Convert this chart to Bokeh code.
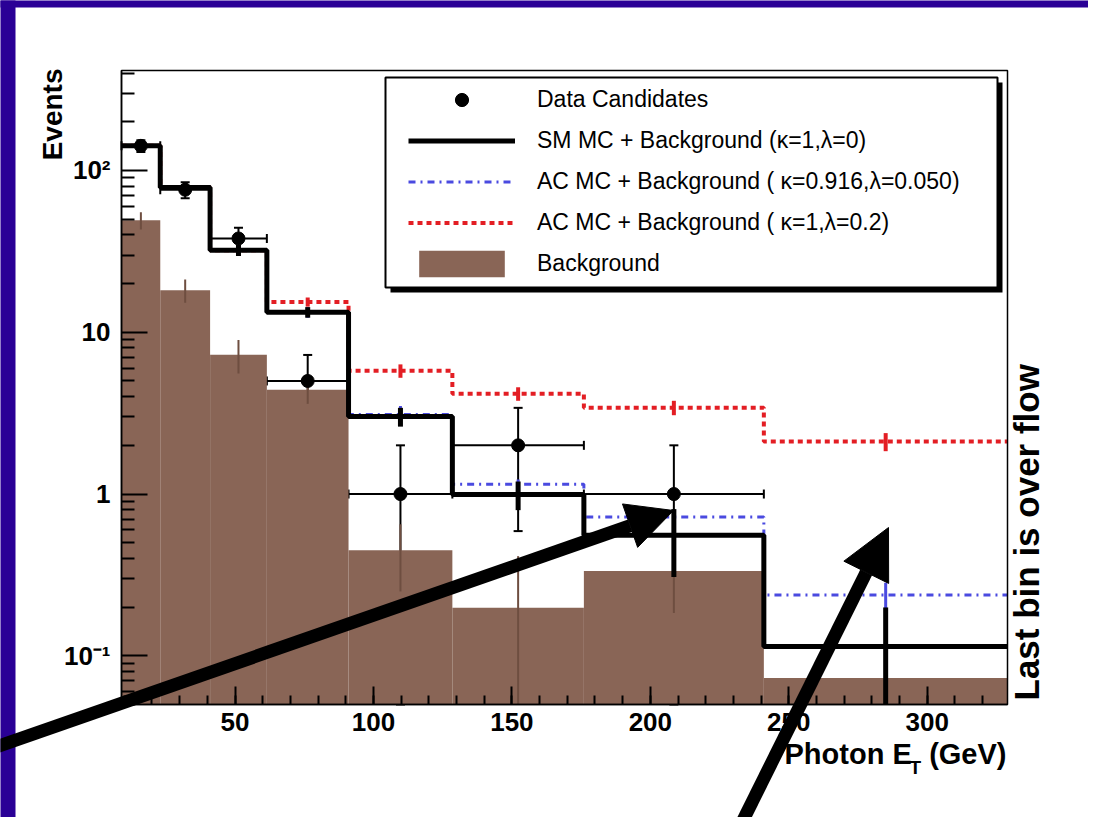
import math
from bokeh.plotting import figure
from bokeh.models import (ColumnDataSource, Whisker, TeeHead, Legend, LegendItem, Label,
                          Arrow, NormalHead, BoxAnnotation, FixedTicker, CustomJSTickFormatter,
                          Range1d)
from bokeh.embed import file_html
from bokeh.resources import INLINE

# ---------------- data ----------------
bin_edges = [9, 23, 41, 61.5, 91, 128.5, 176, 241, 329]          # Photon E_T bins (GeV), last = overflow
data_counts = [142, 76, 38, 5, 1, 2, 1, 0]
data_err = [11.9, 8.7, 6.2, 2.24, 1.0, 1.41, 1.0, 0.0]
sm_mc = [142, 78.5, 32.1, 13.3, 3.01, 0.995, 0.557, 0.114]
sm_err = [10, 5, 2.5, 1.0, 0.4, 0.2, 0.25, 0.085]
ac_blue = [142, 78.5, 32.1, 13.3, 3.1, 1.15, 0.72, 0.238]
ac_blue_err = [10, 5, 2.5, 1.0, 0.4, 0.08, 0.06, 0.045]
ac_red = [142, 78.5, 32.1, 15.4, 5.78, 4.17, 3.42, 2.11]
ac_red_err = [10, 5, 2.5, 1.0, 0.55, 0.4, 0.35, 0.27]
background = [49.2, 18.2, 7.25, 4.41, 0.45, 0.198, 0.334, 0.073]
background_err = [6, 3, 1.7, 0.8, 0.2, 0.215, 0.15, 0.125]

x_ticks = [50, 100, 150, 200, 250, 300]
y_ticks = [0.1, 1, 10, 100]

legend_labels = ["Data Candidates",
                 "SM MC + Background (\u03ba=1,\u03bb=0)",
                 "AC MC + Background ( \u03ba=0.916,\u03bb=0.050)",
                 "AC MC + Background ( \u03ba=1,\u03bb=0.2)",
                 "Background"]

# ---------------- layout geometry (canvas pixels) ----------------
W, H = 1088, 817
FL, FR, FT, FB = 121, 1007, 70, 704       # the drawn plot box
X0, X1 = 9, 329                           # axis extents
Y0, Y1 = 0.05, 415

def px_x(px):
    return X0 + (px - FL) * (X1 - X0) / (FR - FL)

def px_y(py):
    l0, l1 = math.log10(Y0), math.log10(Y1)
    return 10 ** (l0 + (FB - py) * (l1 - l0) / (FB - FT))

PURPLE = "#2a0096"
BROWN = "#896556"
RED = "#e31e24"
BLUE = "#4a4ae0"
FONT = "Liberation Sans"

# the Bokeh frame covers the whole canvas; the axes are pinned to the plot box
p = figure(width=W, height=H, y_axis_type="log",
           x_range=Range1d(px_x(0), px_x(W)), y_range=Range1d(px_y(H), px_y(0)),
           output_backend="svg", toolbar_location=None,
           min_border_left=0, min_border_right=0, min_border_top=0, min_border_bottom=0)
p.title.visible = False
p.background_fill_color = "white"
p.border_fill_color = "white"
p.outline_line_alpha = 0
p.xgrid.visible = False
p.ygrid.visible = False

p.xaxis.fixed_location = Y0
p.yaxis.fixed_location = X0
p.xaxis.bounds = (X0, X1)
p.yaxis.bounds = (Y0, Y1)
for ax in (p.xaxis, p.yaxis):
    ax.axis_line_width = 1.5
    ax.major_tick_out = 0
    ax.minor_tick_out = 0
    ax.major_tick_line_width = 2
    ax.minor_tick_line_width = 2
    ax.major_label_text_font = FONT
    ax.major_label_text_font_style = "bold"
    ax.major_label_text_font_size = "26px"
    ax.major_label_text_color = "black"
p.xaxis.major_tick_in = 18
p.xaxis.minor_tick_in = 9
p.yaxis.major_tick_in = 26
p.yaxis.minor_tick_in = 13
p.xaxis.major_label_standoff = 8
p.yaxis.major_label_standoff = 11
p.xaxis.ticker = FixedTicker(ticks=x_ticks, minor_ticks=list(range(10, 330, 10)))
y_minor = [m * 10 ** e for e in range(-2, 3) for m in range(2, 10)]
p.yaxis.ticker = FixedTicker(ticks=y_ticks, minor_ticks=[t for t in y_minor if Y0 <= t <= Y1])
p.yaxis.formatter = CustomJSTickFormatter(code="""
const m = {"-1": "10\u207b\u00b9", "0": "1", "1": "10", "2": "10\u00b2"};
const e = Math.round(Math.log10(tick));
return m[String(e)];
""")

nb = len(bin_edges) - 1
lefts = bin_edges[:-1]
rights = bin_edges[1:]
centers = [(a + b) / 2 for a, b in zip(lefts, rights)]
FLOOR = Y0

# background histogram
bg_r = p.quad(left=lefts, right=rights, top=background, bottom=[FLOOR] * nb,
              fill_color=BROWN, line_color=BROWN, line_width=0)
p.segment(x0=centers, x1=centers,
          y0=[max(v - e, FLOOR) for v, e in zip(background, background_err)],
          y1=[v + e for v, e in zip(background, background_err)],
          line_color="#6e4e40", line_width=2)

def step_hist(vals, errs, color, width, dash, err_width):
    r = p.step(x=bin_edges, y=list(vals) + [vals[-1]], mode="after",
               line_color=color, line_width=width, line_dash=dash)
    p.segment(x0=centers, x1=centers,
              y0=[max(v - e, FLOOR) for v, e in zip(vals, errs)],
              y1=[v + e for v, e in zip(vals, errs)],
              line_color=color, line_width=err_width)
    return r

blue_r = step_hist(ac_blue, ac_blue_err, BLUE, 3, "7 5 2 5", 3)
red_r = step_hist(ac_red, ac_red_err, RED, 4, "5 4", 4)
sm_r = step_hist(sm_mc, sm_err, "black", 5, "solid", 5)

# data candidates
idx = [i for i, v in enumerate(data_counts) if v > 0]
dsrc = ColumnDataSource(dict(
    x=[centers[i] for i in idx],
    y=[data_counts[i] for i in idx],
    lo=[max(data_counts[i] - data_err[i], FLOOR) for i in idx],
    hi=[data_counts[i] + data_err[i] for i in idx],
    xl=[lefts[i] for i in idx],
    xr=[rights[i] for i in idx],
))
p.add_layout(Whisker(source=dsrc, base="x", lower="lo", upper="hi", dimension="height",
                     line_color="black", line_width=2,
                     lower_head=TeeHead(size=9, line_color="black", line_width=2),
                     upper_head=TeeHead(size=9, line_color="black", line_width=2)))
p.add_layout(Whisker(source=dsrc, base="y", lower="xl", upper="xr", dimension="width",
                     line_color="black", line_width=2,
                     lower_head=TeeHead(size=9, line_color="black", line_width=2),
                     upper_head=TeeHead(size=9, line_color="black", line_width=2)))
data_r = p.scatter(x="x", y="y", source=dsrc, size=13, marker="circle",
                   fill_color="black", line_color="black")

# plot box (top/right edges)
p.add_layout(BoxAnnotation(left=X0, right=X1, bottom=Y0, top=Y1, fill_alpha=0,
                           line_color="black", line_width=1.5, line_alpha=1))

# slide border (purple)
p.add_layout(BoxAnnotation(left=px_x(-30), right=px_x(15), top=px_y(-30), bottom=px_y(860),
                           fill_color=PURPLE, fill_alpha=1, line_alpha=0))
p.add_layout(BoxAnnotation(left=px_x(-30), right=px_x(W), top=px_y(-30), bottom=px_y(7),
                           fill_color=PURPLE, fill_alpha=1, line_alpha=0))

# legend box with shadow
p.add_layout(BoxAnnotation(left=px_x(390), right=px_x(1002), top=px_y(82), bottom=px_y(292),
                           fill_color="black", fill_alpha=1, line_alpha=0))
p.add_layout(BoxAnnotation(left=px_x(385), right=px_x(997), top=px_y(77), bottom=px_y(287),
                           fill_color="white", fill_alpha=1, line_color="black", line_width=2,
                           line_alpha=1))
legend = Legend(items=[LegendItem(label=legend_labels[0], renderers=[data_r]),
                       LegendItem(label=legend_labels[1], renderers=[sm_r]),
                       LegendItem(label=legend_labels[2], renderers=[blue_r]),
                       LegendItem(label=legend_labels[3], renderers=[red_r]),
                       LegendItem(label=legend_labels[4], renderers=[bg_r])],
                location=(402, H - 286), margin=0, padding=6, spacing=8,
                glyph_width=107, glyph_height=33, label_height=33, label_standoff=22,
                label_text_font=FONT, label_text_font_size="23px", label_text_color="black",
                border_line_alpha=0, background_fill_alpha=0)
p.add_layout(legend)

# texts
def text(px, py, s, size, align="left", angle=0):
    p.add_layout(Label(x=px_x(px), y=px_y(py), text=s, angle=angle, angle_units="deg",
                       text_align=align, text_baseline="middle", text_font=FONT,
                       text_font_style="bold", text_font_size=size, text_color="black"))

text(52, 68, "Events", "28px", align="right", angle=90)
text(1026, 700, "Last bin is over flow", "35px", align="left", angle=90)
text(784, 753, "Photon E", "29px")
text(909, 767, "T", "19px")
text(1006, 753, "(GeV)", "29px", align="right")

# overlay arrows drawn on the slide
p.add_layout(Arrow(x_start=px_x(-10), y_start=px_y(748.5), x_end=px_x(673), y_end=px_y(510),
                   line_color="black", line_width=13,
                   end=NormalHead(size=46, fill_color="black", line_color="black")))
p.add_layout(Arrow(x_start=px_x(735), y_start=px_y(835), x_end=px_x(888), y_end=px_y(527),
                   line_color="black", line_width=13,
                   end=NormalHead(size=50, fill_color="black", line_color="black")))

open("out.html", "w").write(file_html(p, INLINE))
